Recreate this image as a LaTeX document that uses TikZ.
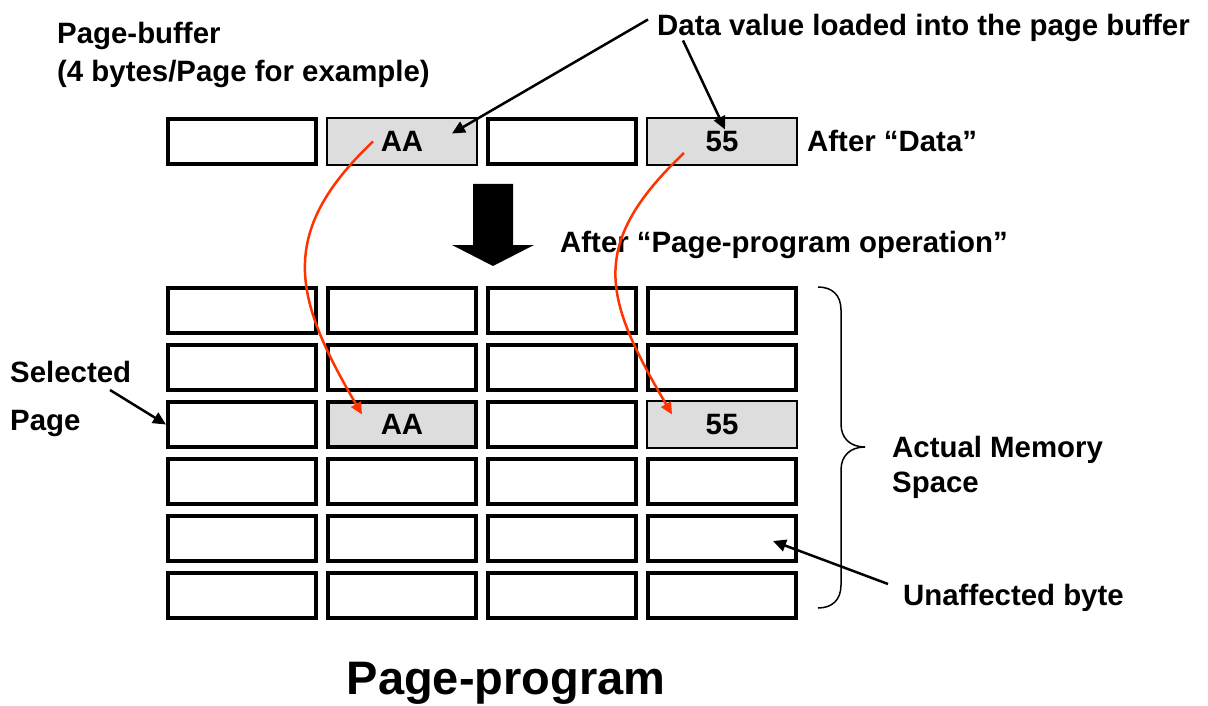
\documentclass[tikz,border=0pt]{standalone}
\usepackage{fontspec}
\setmainfont{Liberation Sans}
\usetikzlibrary{arrows.meta}
\definecolor{cellgrey}{RGB}{221,221,221}
\definecolor{flowred}{RGB}{255,51,0}
\newcommand{\lblfont}{\fontsize{29.4}{34}\selectfont\bfseries}
\tikzset{
    cell/.style={draw, line width=4pt, minimum width=148pt, minimum height=45pt, inner sep=0pt, font=\lblfont},
    loaded/.style={draw, fill=cellgrey, line width=1.8pt, minimum width=150pt, minimum height=47pt, inner sep=0pt, font=\lblfont},
    lbl/.style={inner sep=0pt, font=\lblfont, anchor=base west},
    pointer/.style={line width=2.5pt, -{Triangle[length=13pt,width=12pt]}},
    flow/.style={flowred, line width=2.5pt, -{Triangle[length=12pt,width=11pt]}}
}

\begin{document}
\begin{tikzpicture}[x=1pt, y=-1pt]
    \useasboundingbox (0,0) rectangle (1208,706);
    \node[lbl] (buftitle) at (57,44) {Page-buffer};
    \node[lbl] (bufnote)  at (57,82) {(4 bytes/Page for example)};
    \node[lbl] (datatxt)  at (657,36) {Data value loaded into the page buffer};
    \node[cell]   (buf1) at (242,141.5) {};
    \node[loaded] (buf2) at (402,141.5) {AA};
    \node[cell]   (buf3) at (562,141.5) {};
    \node[loaded] (buf4) at (722,141.5) {55};
    \node[lbl] (afterdata) at (807,152) {After “Data”};
    \fill (473,184) -- (513,184) -- (513,245) -- (534,245) -- (493,266) -- (452,245) -- (473,245) -- cycle;
    \node[lbl] (afterprog) at (560,252) {After “Page-program operation”};
    \foreach \r in {1,...,6}
        \foreach \c in {1,...,4}
            \node[cell] (m-\r-\c) at ({82+160*\c},{253.5+57*\r}) {};
    \node[cell, fill=cellgrey] (m-3-2) at (402,424.5) {AA};
    \node[loaded] (m-3-4) at (722,424.5) {55};
    \node[lbl] (seltxt)  at (10,382) {Selected};
    \node[lbl] (pagetxt) at (10,430) {Page};
    \node[lbl] (memtxt)  at (892,457) {Actual Memory};
    \node[lbl] (spacetxt) at (892,492) {Space};
    \node[lbl] (unaff)   at (903,605) {Unaffected byte};
    \node[font=\fontsize{47}{56}\selectfont\bfseries, inner sep=0pt, anchor=base] (title) at (506,694) {Page-program};
    \draw[pointer] ([shift={(-9,5)}]datatxt.north west) -- ([shift={(50,-8)}]buf2.center);
    \draw[pointer] ([shift={(26,-2)}]datatxt.south west) -- ([shift={(3,-12)}]buf4.center);
    \draw[flow] ([shift={(-29,0)}]buf2.center) .. controls +(-98,93) and +(-67,-115) .. ([shift={(-40,-10)}]m-3-2.center);
    \draw[flow] ([shift={(-38,11.5)}]buf4.center) .. controls +(-98,93) and +(-67,-115) .. ([shift={(-50,-10)}]m-3-4.center);
    \draw[pointer] ([shift={(100,8)}]seltxt.base west) -- (m-3-1.west);
    \draw[pointer] ([shift={(-15,-21)}]unaff.base west) -- ([shift={(51,2.5)}]m-5-4.center);
    \draw[line width=1.5pt] (818,287) .. controls (832,287) and (841,295) .. (841,310) -- (841,424)
        .. controls (841,438) and (850,447) .. (865,447) .. controls (850,447) and (841,456) .. (841,470)
        -- (841,585) .. controls (841,600) and (832,608) .. (818,608);
\end{tikzpicture}
\end{document}
